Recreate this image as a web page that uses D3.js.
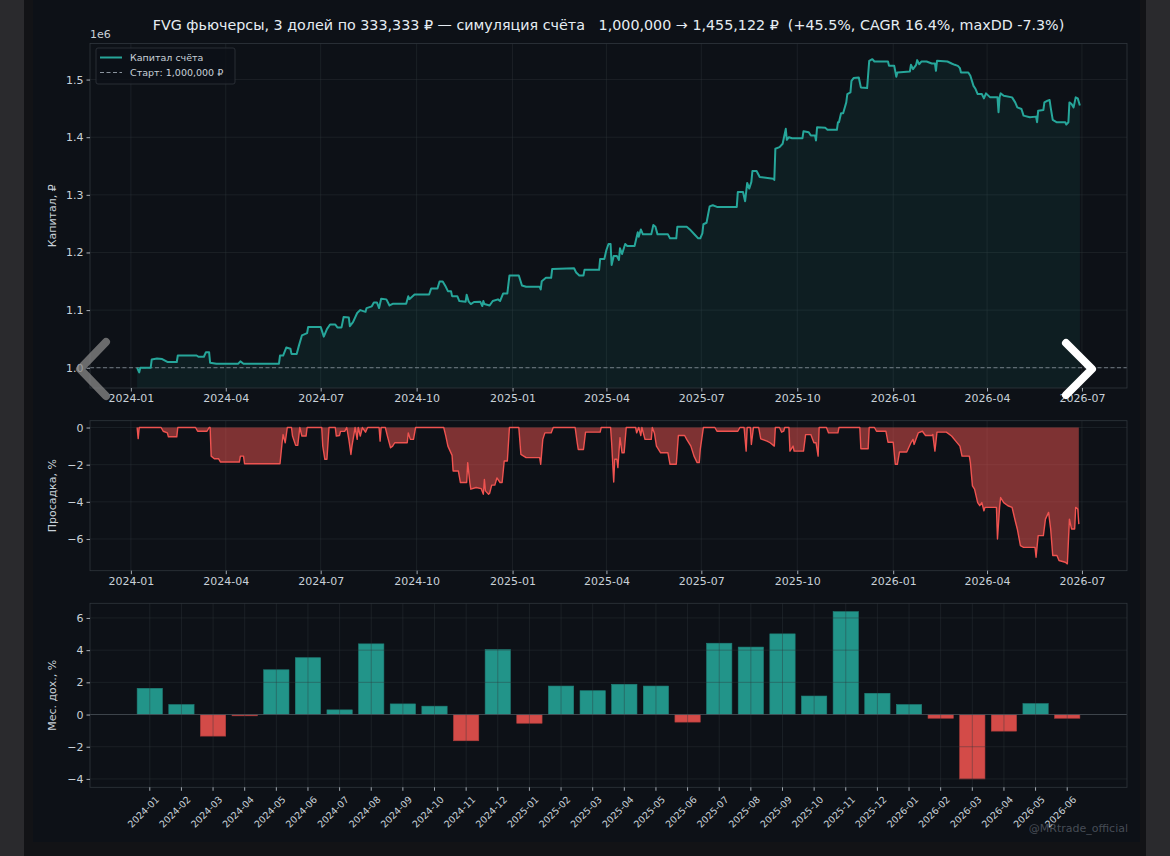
<!DOCTYPE html>
<html>
<head>
<meta charset="utf-8">
<script src="https://cdn.jsdelivr.net/npm/d3@7"></script>
<style>
  body { margin: 0; background: #2a2a2d; }
  svg { display: block; font-family: "DejaVu Sans", sans-serif; }
</style>
</head>
<body>
<div id="chart"></div>
<script>
// equity, in millions of rubles (axis shows "1e6")
const equity = [
  ["2024-01-07", 1.000], ["2024-01-09", 0.992], ["2024-01-10", 1.000], ["2024-01-20", 1.000],
  ["2024-01-21", 1.0143], ["2024-01-26", 1.016], ["2024-01-31", 1.015], ["2024-02-05", 1.010],
  ["2024-02-14", 1.010], ["2024-02-15", 1.0212], ["2024-03-04", 1.0212], ["2024-03-06", 1.019],
  ["2024-03-11", 1.019], ["2024-03-13", 1.027], ["2024-03-16", 1.027], ["2024-03-17", 1.0085],
  ["2024-03-23", 1.007], ["2024-04-13", 1.007], ["2024-04-15", 1.011], ["2024-04-18", 1.007],
  ["2024-05-22", 1.007], ["2024-05-23", 1.0212], ["2024-05-26", 1.0212], ["2024-05-29", 1.035],
  ["2024-06-02", 1.033], ["2024-06-03", 1.024], ["2024-06-08", 1.024], ["2024-06-10", 1.0375],
  ["2024-06-13", 1.056], ["2024-06-18", 1.060], ["2024-06-19", 1.0708], ["2024-07-01", 1.0708],
  ["2024-07-04", 1.054], ["2024-07-07", 1.067], ["2024-07-10", 1.075], ["2024-07-15", 1.075],
  ["2024-07-17", 1.070], ["2024-07-21", 1.070], ["2024-07-23", 1.088], ["2024-07-28", 1.087],
  ["2024-07-29", 1.072], ["2024-08-01", 1.079], ["2024-08-05", 1.095], ["2024-08-08", 1.100],
  ["2024-08-13", 1.097], ["2024-08-14", 1.1035], ["2024-08-19", 1.1065], ["2024-08-21", 1.113],
  ["2024-08-24", 1.113], ["2024-08-26", 1.1035], ["2024-08-28", 1.1197], ["2024-09-02", 1.1186],
  ["2024-09-05", 1.108], ["2024-09-08", 1.111], ["2024-09-21", 1.111], ["2024-09-23", 1.124],
  ["2024-09-24", 1.119], ["2024-09-29", 1.127], ["2024-10-13", 1.127], ["2024-10-15", 1.1376],
  ["2024-10-21", 1.1376], ["2024-10-23", 1.1497], ["2024-10-26", 1.1497], ["2024-10-29", 1.1404],
  ["2024-10-31", 1.1329], ["2024-11-03", 1.1329], ["2024-11-04", 1.1242], ["2024-11-09", 1.1242],
  ["2024-11-11", 1.1157], ["2024-11-17", 1.1146], ["2024-11-18", 1.1266], ["2024-11-20", 1.1146],
  ["2024-11-22", 1.1105], ["2024-11-25", 1.114], ["2024-12-01", 1.1146], ["2024-12-03", 1.107],
  ["2024-12-04", 1.1157], ["2024-12-05", 1.1105], ["2024-12-10", 1.108], ["2024-12-13", 1.1157],
  ["2024-12-18", 1.1186], ["2024-12-20", 1.1157], ["2024-12-23", 1.1289], ["2024-12-27", 1.1289],
  ["2024-12-29", 1.160], ["2025-01-07", 1.160], ["2025-01-10", 1.1427], ["2025-01-14", 1.1404],
  ["2025-01-27", 1.1404], ["2025-01-28", 1.1358], ["2025-01-29", 1.1502], ["2025-02-02", 1.1561],
  ["2025-02-07", 1.1561], ["2025-02-08", 1.1715], ["2025-03-01", 1.1727], ["2025-03-03", 1.1651],
  ["2025-03-06", 1.160], ["2025-03-10", 1.160], ["2025-03-11", 1.1698], ["2025-03-25", 1.1698],
  ["2025-03-26", 1.1888], ["2025-03-30", 1.1888], ["2025-04-01", 1.2043], ["2025-04-03", 1.2147],
  ["2025-04-05", 1.2147], ["2025-04-06", 1.1784], ["2025-04-08", 1.194], ["2025-04-11", 1.194],
  ["2025-04-13", 1.187], ["2025-04-14", 1.2072], ["2025-04-16", 1.1974], ["2025-04-19", 1.2147],
  ["2025-04-21", 1.2112], ["2025-04-28", 1.2112], ["2025-05-01", 1.2349], ["2025-05-02", 1.2273],
  ["2025-05-04", 1.240], ["2025-05-06", 1.2314], ["2025-05-14", 1.2314], ["2025-05-16", 1.2475],
  ["2025-05-18", 1.2446], ["2025-05-20", 1.2314], ["2025-05-30", 1.2314], ["2025-06-01", 1.2245],
  ["2025-06-07", 1.2245], ["2025-06-08", 1.2446], ["2025-06-17", 1.2446], ["2025-06-20", 1.240],
  ["2025-06-25", 1.2303], ["2025-06-28", 1.2245], ["2025-06-30", 1.2245], ["2025-07-02", 1.2333],
  ["2025-07-03", 1.249], ["2025-07-06", 1.2515], ["2025-07-09", 1.280], ["2025-07-12", 1.282],
  ["2025-07-16", 1.279], ["2025-08-04", 1.279], ["2025-08-05", 1.305], ["2025-08-10", 1.305],
  ["2025-08-12", 1.289], ["2025-08-14", 1.3206], ["2025-08-16", 1.3109], ["2025-08-18", 1.3224],
  ["2025-08-19", 1.3413], ["2025-08-23", 1.3413], ["2025-08-26", 1.3309], ["2025-09-08", 1.328],
  ["2025-09-09", 1.3258], ["2025-09-10", 1.380], ["2025-09-14", 1.3827], ["2025-09-17", 1.3886],
  ["2025-09-18", 1.3972], ["2025-09-20", 1.4145], ["2025-09-21", 1.3955], ["2025-09-23", 1.400],
  ["2025-09-26", 1.3983], ["2025-10-06", 1.3983], ["2025-10-07", 1.4104], ["2025-10-12", 1.4087],
  ["2025-10-14", 1.403], ["2025-10-18", 1.403], ["2025-10-19", 1.3942], ["2025-10-20", 1.4173],
  ["2025-10-28", 1.4162], ["2025-10-30", 1.4128], ["2025-11-08", 1.4128], ["2025-11-09", 1.4259],
  ["2025-11-10", 1.4259], ["2025-11-12", 1.4414], ["2025-11-14", 1.4414], ["2025-11-17", 1.4604],
  ["2025-11-18", 1.4749], ["2025-11-21", 1.4777], ["2025-11-22", 1.4979], ["2025-11-24", 1.5026],
  ["2025-11-29", 1.5036], ["2025-12-01", 1.4864], ["2025-12-07", 1.4853], ["2025-12-09", 1.5325],
  ["2025-12-12", 1.5354], ["2025-12-14", 1.5313], ["2025-12-27", 1.5313], ["2025-12-28", 1.5238],
  ["2026-01-02", 1.5238], ["2026-01-04", 1.5048], ["2026-01-05", 1.5123], ["2026-01-17", 1.514],
  ["2026-01-18", 1.5256], ["2026-01-20", 1.5181], ["2026-01-23", 1.5256], ["2026-01-24", 1.5337],
  ["2026-01-26", 1.5267], ["2026-01-28", 1.5313], ["2026-02-02", 1.5313], ["2026-02-07", 1.5279],
  ["2026-02-10", 1.5279], ["2026-02-11", 1.5152], ["2026-02-12", 1.5325], ["2026-02-22", 1.5313],
  ["2026-02-26", 1.5279], ["2026-03-01", 1.5256], ["2026-03-04", 1.5238], ["2026-03-06", 1.5198],
  ["2026-03-07", 1.5123], ["2026-03-14", 1.5123], ["2026-03-16", 1.5066], ["2026-03-19", 1.489],
  ["2026-03-21", 1.4836], ["2026-03-23", 1.4749], ["2026-03-27", 1.4749], ["2026-03-29", 1.4674],
  ["2026-03-31", 1.476], ["2026-04-04", 1.4691], ["2026-04-11", 1.4691], ["2026-04-12", 1.4432],
  ["2026-04-13", 1.4691], ["2026-04-14", 1.476], ["2026-04-17", 1.472], ["2026-04-25", 1.4691],
  ["2026-04-28", 1.4604], ["2026-04-30", 1.4518], ["2026-05-04", 1.449], ["2026-05-06", 1.4374],
  ["2026-05-12", 1.4345], ["2026-05-18", 1.4357], ["2026-05-19", 1.4259], ["2026-05-20", 1.446],
  ["2026-05-25", 1.4472], ["2026-05-26", 1.4604], ["2026-05-29", 1.4634], ["2026-05-31", 1.4645],
  ["2026-06-01", 1.4518], ["2026-06-03", 1.430], ["2026-06-07", 1.4259], ["2026-06-15", 1.4259],
  ["2026-06-16", 1.4219], ["2026-06-18", 1.4259], ["2026-06-19", 1.4604], ["2026-06-21", 1.4575],
  ["2026-06-23", 1.4518], ["2026-06-25", 1.4691], ["2026-06-27", 1.4674], ["2026-06-29", 1.4551]
];

// drawdown, %
const drawdown = [
  ["2024-01-07", 0], ["2024-01-08", -0.6], ["2024-01-09", 0], ["2024-01-30", 0], ["2024-02-01", -0.2],
  ["2024-02-05", -0.29], ["2024-02-06", -0.5], ["2024-02-14", -0.5], ["2024-02-15", 0], ["2024-03-03", 0],
  ["2024-03-05", -0.2], ["2024-03-14", -0.2], ["2024-03-16", 0], ["2024-03-17", 0], ["2024-03-18", -1.54],
  ["2024-03-21", -1.68], ["2024-03-25", -1.68], ["2024-03-27", -1.86], ["2024-04-14", -1.86], ["2024-04-15", -1.54],
  ["2024-04-18", -1.54], ["2024-04-19", -1.95], ["2024-05-23", -1.95], ["2024-05-25", -0.82], ["2024-05-26", -0.38],
  ["2024-05-28", -0.82], ["2024-05-30", 0], ["2024-06-03", 0], ["2024-06-04", -0.46], ["2024-06-07", -0.96],
  ["2024-06-09", -0.96], ["2024-06-11", 0], ["2024-06-13", -0.46], ["2024-06-17", -0.46], ["2024-06-18", 0],
  ["2024-07-02", 0], ["2024-07-03", -1.0], ["2024-07-05", -1.71], ["2024-07-07", -1.71], ["2024-07-09", 0],
  ["2024-07-15", 0], ["2024-07-16", -0.46], ["2024-07-19", -0.43], ["2024-07-20", -0.21], ["2024-07-24", -0.21],
  ["2024-07-26", 0], ["2024-07-28", -0.64], ["2024-07-30", -1.45], ["2024-07-31", -1.0], ["2024-08-03", 0],
  ["2024-08-05", -0.64], ["2024-08-06", 0], ["2024-08-08", -0.46], ["2024-08-10", 0], ["2024-08-13", -0.25],
  ["2024-08-15", 0], ["2024-08-26", 0], ["2024-08-27", -0.73], ["2024-08-28", 0], ["2024-09-01", 0],
  ["2024-09-03", -0.46], ["2024-09-06", -1.09], ["2024-09-08", -1.0], ["2024-09-10", -0.82], ["2024-09-22", -0.82],
  ["2024-09-23", -0.29], ["2024-09-25", -0.64], ["2024-09-28", -0.64], ["2024-09-30", 0], ["2024-10-27", 0],
  ["2024-10-29", -0.46], ["2024-10-31", -1.0], ["2024-11-04", -1.5], ["2024-11-05", -2.34], ["2024-11-10", -2.34],
  ["2024-11-12", -2.96], ["2024-11-18", -2.96], ["2024-11-19", -1.89], ["2024-11-21", -2.96], ["2024-11-22", -3.32],
  ["2024-11-27", -3.23], ["2024-12-02", -3.29], ["2024-12-04", -3.59], ["2024-12-05", -2.8], ["2024-12-06", -3.41],
  ["2024-12-09", -3.59], ["2024-12-10", -3.54], ["2024-12-12", -3.1], ["2024-12-15", -3.1], ["2024-12-17", -2.71],
  ["2024-12-20", -2.96], ["2024-12-22", -2.96], ["2024-12-24", -1.8], ["2024-12-27", -1.8], ["2024-12-29", 0],
  ["2025-01-07", 0], ["2025-01-09", -1.45], ["2025-01-14", -1.62], ["2025-01-27", -1.62], ["2025-01-28", -1.98],
  ["2025-01-30", -0.64], ["2025-02-01", -0.29], ["2025-02-07", -0.29], ["2025-02-09", 0], ["2025-03-02", 0],
  ["2025-03-04", -0.82], ["2025-03-05", -1.18], ["2025-03-10", -1.18], ["2025-03-12", -0.25], ["2025-03-26", -0.25],
  ["2025-03-27", 0], ["2025-04-05", 0], ["2025-04-06", -0.82], ["2025-04-08", -2.93], ["2025-04-09", -1.71],
  ["2025-04-11", -1.71], ["2025-04-12", -2.16], ["2025-04-14", -0.55], ["2025-04-16", -1.36], ["2025-04-18", -1.36],
  ["2025-04-20", 0], ["2025-04-29", 0], ["2025-04-30", -0.29], ["2025-05-02", 0], ["2025-05-04", -0.43],
  ["2025-05-05", 0], ["2025-05-08", -0.64], ["2025-05-14", -0.64], ["2025-05-15", 0], ["2025-05-17", -0.29],
  ["2025-05-19", -1.0], ["2025-05-23", -1.36], ["2025-05-30", -1.36], ["2025-06-01", -1.98], ["2025-06-07", -1.98],
  ["2025-06-09", -0.43], ["2025-06-15", -0.43], ["2025-06-17", -0.64], ["2025-06-21", -1.0], ["2025-06-24", -1.54],
  ["2025-06-27", -1.89], ["2025-06-29", -1.89], ["2025-06-30", -1.18], ["2025-07-03", 0], ["2025-07-14", 0],
  ["2025-07-16", -0.2], ["2025-08-05", -0.2], ["2025-08-07", 0], ["2025-08-11", 0], ["2025-08-13", -1.27],
  ["2025-08-14", 0], ["2025-08-17", 0], ["2025-08-18", -0.91], ["2025-08-20", 0], ["2025-08-25", 0],
  ["2025-08-27", -0.61], ["2025-09-02", -0.73], ["2025-09-05", -0.82], ["2025-09-09", -1.0], ["2025-09-10", 0],
  ["2025-09-14", 0], ["2025-09-16", -0.25], ["2025-09-18", -0.2], ["2025-09-19", 0], ["2025-09-23", 0],
  ["2025-09-24", -1.27], ["2025-09-27", -1.0], ["2025-09-28", -1.27], ["2025-10-07", -1.27], ["2025-10-09", -0.38],
  ["2025-10-14", -0.38], ["2025-10-17", -0.82], ["2025-10-19", -0.82], ["2025-10-21", -1.54], ["2025-10-22", 0],
  ["2025-10-29", 0], ["2025-10-31", -0.29], ["2025-11-09", -0.29], ["2025-11-10", 0], ["2025-11-30", 0],
  ["2025-12-01", -1.14], ["2025-12-08", -1.14], ["2025-12-09", 0], ["2025-12-14", 0], ["2025-12-16", -0.2],
  ["2025-12-25", -0.2], ["2025-12-27", -0.79], ["2026-01-01", -0.79], ["2026-01-03", -1.98], ["2026-01-05", -1.98],
  ["2026-01-07", -1.32], ["2026-01-14", -1.32], ["2026-01-18", -0.82], ["2026-01-20", -0.64], ["2026-01-21", -0.91],
  ["2026-01-25", -0.29], ["2026-01-29", -0.2], ["2026-02-01", -0.43], ["2026-02-07", -0.43], ["2026-02-08", -0.38],
  ["2026-02-10", -1.27], ["2026-02-12", -0.25], ["2026-02-21", -0.25], ["2026-02-26", -0.46], ["2026-03-02", -0.73],
  ["2026-03-06", -1.0], ["2026-03-08", -1.54], ["2026-03-15", -1.54], ["2026-03-16", -1.89], ["2026-03-18", -3.14],
  ["2026-03-20", -3.32], ["2026-03-23", -4.04], ["2026-03-25", -4.21], ["2026-03-27", -4.04], ["2026-03-29", -4.48],
  ["2026-03-30", -4.3], ["2026-04-10", -4.3], ["2026-04-11", -6.0], ["2026-04-13", -4.3], ["2026-04-14", -3.77],
  ["2026-04-17", -4.04], ["2026-04-21", -4.21], ["2026-04-25", -4.3], ["2026-04-28", -5.02], ["2026-04-30", -5.46],
  ["2026-05-03", -6.36], ["2026-05-06", -6.45], ["2026-05-17", -6.45], ["2026-05-18", -6.98], ["2026-05-20", -5.82],
  ["2026-05-25", -5.82], ["2026-05-27", -4.93], ["2026-05-30", -4.57], ["2026-06-01", -5.46], ["2026-06-03", -6.89],
  ["2026-06-07", -6.89], ["2026-06-09", -7.16], ["2026-06-15", -7.25], ["2026-06-17", -7.34], ["2026-06-19", -4.93],
  ["2026-06-21", -5.46], ["2026-06-24", -5.46], ["2026-06-25", -4.3], ["2026-06-27", -4.39], ["2026-06-28", -5.2]
];

const months = [
  "2024-01", "2024-02", "2024-03", "2024-04", "2024-05", "2024-06", "2024-07", "2024-08", "2024-09", "2024-10",
  "2024-11", "2024-12", "2025-01", "2025-02", "2025-03", "2025-04", "2025-05", "2025-06", "2025-07", "2025-08",
  "2025-09", "2025-10", "2025-11", "2025-12", "2026-01", "2026-02", "2026-03", "2026-04", "2026-05", "2026-06"
];
const monthlyReturns = [
  1.63, 0.62, -1.34, -0.08, 2.78, 3.53, 0.29, 4.39, 0.66, 0.52,
  -1.63, 4.04, -0.54, 1.77, 1.48, 1.88, 1.77, -0.47, 4.43, 4.19,
  5.01, 1.15, 6.39, 1.32, 0.62, -0.23, -4.0, -1.03, 0.68, -0.23
];

const startCapital = 1.0;
const titleText = "FVG фьючерсы, 3 долей по 333,333 ₽ — симуляция счёта   1,000,000 → 1,455,122 ₽  (+45.5%, CAGR 16.4%, maxDD -7.3%)";
const legendLabels = ["Капитал счёта", "Старт: 1,000,000 ₽"];
const yLabels = ["Капитал, ₽", "Просадка, %", "Мес. дох., %"];

const colors = {
    page: "#2a2a2d",
    frame: "#121316",
    fig: "#0d1117",
    text: "#c9d1d9",
    spine: "#30363d",
    grid: "#30363d",
    teal: "#26a69a",
    red: "#ef5350"
};

const plot = { left: 90, right: 1127 };
const panels = {
    equity: { top: 43.5, bottom: 388 },
    dd: { top: 420.7, bottom: 570.7 },
    bars: { top: 603.3, bottom: 787.3 }
};

const parse = d3.timeParse("%Y-%m-%d");
const eq = equity.map(d => [parse(d[0]), d[1]]);
const dd = drawdown.map(d => [parse(d[0]), d[1]]);
const minus = s => s.replace("-", "\u2212");

const svg = d3.select("#chart").append("svg")
    .attr("width", 1170)
    .attr("height", 856);

svg.append("rect").attr("width", 1170).attr("height", 856).attr("fill", colors.page);
svg.append("rect").attr("x", 24).attr("width", 1122).attr("height", 856).attr("fill", colors.frame);
svg.append("rect").attr("x", 33).attr("width", 1107).attr("height", 842).attr("fill", colors.fig);

// shared time scale, matplotlib-style 5% margins
const tExtent = d3.extent(eq, d => d[0]);
const tPad = (tExtent[1] - tExtent[0]) * 0.05;
const xTime = d3.scaleTime()
    .domain([new Date(+tExtent[0] - tPad), new Date(+tExtent[1] + tPad)])
    .range([plot.left, plot.right]);

function padded(lo, hi) {
    const p = (hi - lo) * 0.05;
    return [lo - p, hi + p];
}

function drawGrid(g, yScale, yTicks, xTicks, xPos, p) {
    g.selectAll(".gx").data(xTicks).join("line")
        .attr("x1", xPos).attr("x2", xPos)
        .attr("y1", p.top).attr("y2", p.bottom)
        .attr("stroke", colors.grid).attr("stroke-width", 0.8).attr("stroke-opacity", 0.5);
    g.selectAll(".gy").data(yTicks).join("line")
        .attr("x1", plot.left).attr("x2", plot.right)
        .attr("y1", d => yScale(d)).attr("y2", d => yScale(d))
        .attr("stroke", colors.grid).attr("stroke-width", 0.8).attr("stroke-opacity", 0.5);
}

function drawSpines(g, p) {
    g.append("rect")
        .attr("x", plot.left).attr("y", p.top)
        .attr("width", plot.right - plot.left).attr("height", p.bottom - p.top)
        .attr("fill", "none").attr("stroke", colors.spine).attr("stroke-width", 0.8);
}

function styleAxis(ax, size) {
    ax.select(".domain").remove();
    ax.selectAll(".tick line").attr("stroke", colors.text).attr("stroke-opacity", 0.8);
    ax.selectAll(".tick text").attr("fill", colors.text).attr("font-size", size || 11)
        .attr("font-family", "DejaVu Sans");
}

function drawTimeAxis(g, p) {
    const ax = g.append("g")
        .attr("transform", "translate(0," + p.bottom + ")")
        .call(d3.axisBottom(xTime).ticks(d3.timeMonth.every(3)).tickFormat(d3.timeFormat("%Y-%m"))
            .tickSize(3.5).tickPadding(3));
    styleAxis(ax);
}

function drawYAxis(g, yScale, ticks, fmt) {
    const ax = g.append("g")
        .attr("transform", "translate(" + plot.left + ",0)")
        .call(d3.axisLeft(yScale).tickValues(ticks).tickFormat(fmt).tickSize(3.5).tickPadding(3));
    styleAxis(ax);
}

function yLabel(text, p) {
    svg.append("text")
        .attr("transform", "translate(56," + (p.top + p.bottom) / 2 + ") rotate(-90)")
        .attr("text-anchor", "middle")
        .attr("fill", colors.text)
        .attr("font-size", 11)
        .text(text);
}

// ---------- equity panel ----------
const pE = panels.equity;
const yEq = d3.scaleLinear()
    .domain(padded(d3.min(eq, d => d[1]), d3.max(eq, d => d[1])))
    .range([pE.bottom, pE.top]);
const eqTicks = [1.0, 1.1, 1.2, 1.3, 1.4, 1.5];
const timeTicks = xTime.ticks(d3.timeMonth.every(3));

const gE = svg.append("g");
drawGrid(gE, yEq, eqTicks, timeTicks, d => xTime(d), pE);

gE.append("path")
    .datum(eq)
    .attr("fill", colors.teal)
    .attr("fill-opacity", 0.09)
    .attr("d", d3.area().x(d => xTime(d[0])).y0(pE.bottom).y1(d => yEq(d[1])));

gE.append("line")
    .attr("x1", plot.left).attr("x2", plot.right)
    .attr("y1", yEq(startCapital)).attr("y2", yEq(startCapital))
    .attr("stroke", "#8b949e").attr("stroke-width", 1).attr("stroke-dasharray", "4,2.5")
    .attr("stroke-opacity", 0.8);

gE.append("path")
    .datum(eq)
    .attr("fill", "none")
    .attr("stroke", colors.teal)
    .attr("stroke-width", 2)
    .attr("stroke-linejoin", "round")
    .attr("d", d3.line().x(d => xTime(d[0])).y(d => yEq(d[1])));

drawSpines(gE, pE);
drawTimeAxis(gE, pE);
drawYAxis(gE, yEq, eqTicks, d3.format(".1f"));
yLabel(yLabels[0], pE);

svg.append("text")
    .attr("x", plot.left).attr("y", pE.top - 6)
    .attr("fill", colors.text).attr("font-size", 11)
    .text("1e6");

// legend
const lg = svg.append("g").attr("transform", "translate(96,48)");
lg.append("rect").attr("width", 139).attr("height", 36).attr("rx", 2)
    .attr("fill", colors.fig).attr("fill-opacity", 0.85)
    .attr("stroke", colors.spine).attr("stroke-width", 0.8);
lg.append("line").attr("x1", 4).attr("x2", 26).attr("y1", 9.5).attr("y2", 9.5)
    .attr("stroke", colors.teal).attr("stroke-width", 2);
lg.append("line").attr("x1", 4).attr("x2", 26).attr("y1", 24.5).attr("y2", 24.5)
    .attr("stroke", "#8b949e").attr("stroke-width", 1).attr("stroke-dasharray", "4,2.5");
lg.selectAll(".lt").data(legendLabels).join("text")
    .attr("x", 34).attr("y", (d, i) => 13 + i * 15)
    .attr("fill", colors.text).attr("font-size", 9.5)
    .text(d => d);

// ---------- drawdown panel ----------
const pD = panels.dd;
const yDD = d3.scaleLinear()
    .domain(padded(d3.min(dd, d => d[1]), 0))
    .range([pD.bottom, pD.top]);
const ddTicks = [0, -2, -4, -6];

const gD = svg.append("g");
drawGrid(gD, yDD, ddTicks, timeTicks, d => xTime(d), pD);

gD.append("path")
    .datum(dd)
    .attr("fill", colors.red)
    .attr("fill-opacity", 0.5)
    .attr("d", d3.area().x(d => xTime(d[0])).y0(yDD(0)).y1(d => yDD(d[1])));

gD.append("path")
    .datum(dd)
    .attr("fill", "none")
    .attr("stroke", colors.red)
    .attr("stroke-width", 1.4)
    .attr("stroke-linejoin", "round")
    .attr("d", d3.line().x(d => xTime(d[0])).y(d => yDD(d[1])));

drawSpines(gD, pD);
drawTimeAxis(gD, pD);
drawYAxis(gD, yDD, ddTicks, d => minus(d3.format("d")(d)));
yLabel(yLabels[1], pD);

// ---------- monthly returns panel ----------
const pB = panels.bars;
const n = months.length;
const xBand = d3.scaleBand()
    .domain(months)
    .range([plot.left, plot.right])
    .paddingInner(0.2)
    .paddingOuter(0.05 * n - 0.01);
const yBar = d3.scaleLinear()
    .domain(padded(Math.min(0, d3.min(monthlyReturns)), d3.max(monthlyReturns)))
    .range([pB.bottom, pB.top]);
const barTicks = [-4, -2, 0, 2, 4, 6];

const gB = svg.append("g");
gB.selectAll(".bar").data(months).join("rect")
    .attr("x", d => xBand(d))
    .attr("width", xBand.bandwidth())
    .attr("y", (d, i) => yBar(Math.max(0, monthlyReturns[i])))
    .attr("height", (d, i) => Math.abs(yBar(monthlyReturns[i]) - yBar(0)))
    .attr("fill", (d, i) => monthlyReturns[i] >= 0 ? colors.teal : colors.red)
    .attr("fill-opacity", 0.88)
    .attr("stroke", (d, i) => monthlyReturns[i] >= 0 ? "#1f7f76" : "#b03c3b")
    .attr("stroke-width", 0.6);

drawGrid(gB, yBar, barTicks, months, d => xBand(d) + xBand.bandwidth() / 2, pB);

gB.append("line")
    .attr("x1", plot.left).attr("x2", plot.right)
    .attr("y1", yBar(0)).attr("y2", yBar(0))
    .attr("stroke", "#484f58").attr("stroke-width", 0.8);

drawSpines(gB, pB);
drawYAxis(gB, yBar, barTicks, d => minus(d3.format("d")(d)));
yLabel(yLabels[2], pB);

const axB = gB.append("g")
    .attr("transform", "translate(0," + pB.bottom + ")")
    .call(d3.axisBottom(xBand).tickSize(3.5).tickPadding(3));
styleAxis(axB, 9.5);
axB.selectAll(".tick text")
    .attr("text-anchor", "end")
    .attr("dy", "0.35em")
    .attr("transform", "translate(3,6) rotate(-45)");

// title
svg.append("text")
    .attr("x", (plot.left + plot.right) / 2)
    .attr("y", 30)
    .attr("text-anchor", "middle")
    .attr("fill", "#e6edf3")
    .attr("font-size", 14.3)
    .attr("xml:space", "preserve")
    .style("white-space", "pre")
    .text(titleText);

// watermark
svg.append("text")
    .attr("x", 1128).attr("y", 832)
    .attr("text-anchor", "end")
    .attr("fill", "#6e7681").attr("fill-opacity", 0.6)
    .attr("font-size", 11)
    .text("@MRtrade_official");

// carousel arrows over the image
svg.append("path")
    .attr("d", "M106,342L80,369L106,396")
    .attr("fill", "none").attr("stroke", "#8a8a8a").attr("stroke-opacity", 0.75)
    .attr("stroke-width", 8).attr("stroke-linecap", "round").attr("stroke-linejoin", "round");
svg.append("path")
    .attr("d", "M1066,343L1092,369L1066,395")
    .attr("fill", "none").attr("stroke", "#ffffff")
    .attr("stroke-width", 8).attr("stroke-linecap", "round").attr("stroke-linejoin", "round");
</script>
</body>
</html>
